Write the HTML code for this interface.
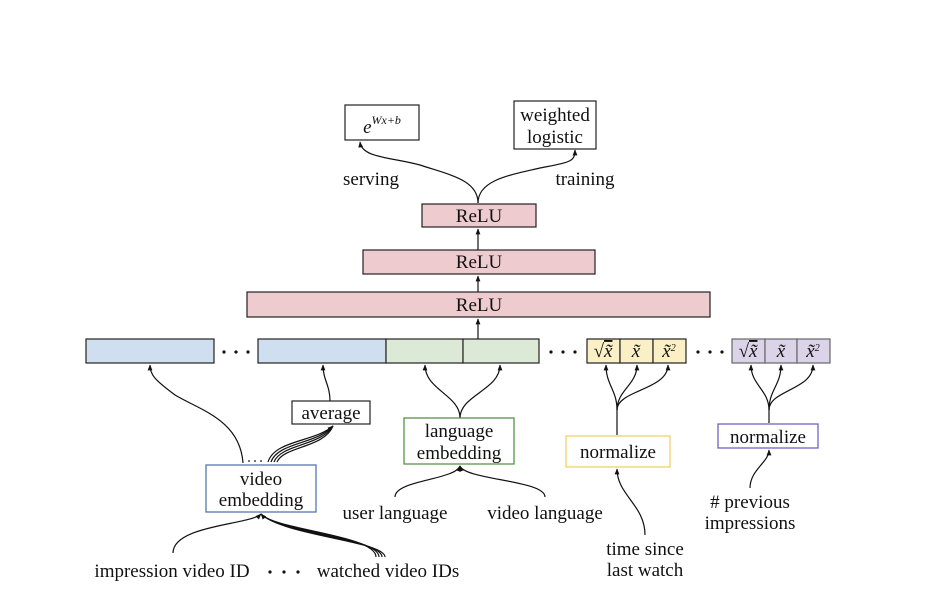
<!DOCTYPE html>
<html><head><meta charset="utf-8"><style>
html,body{margin:0;padding:0;background:#fff;}
svg{display:block;}
text{font-family:"Liberation Serif",serif;font-size:19px;fill:#111;}
.m{font-style:italic;}
</style></head><body>
<svg width="933" height="611" viewBox="0 0 933 611" xmlns="http://www.w3.org/2000/svg">
<defs>
<marker id="a" viewBox="0 0 10 10" refX="9" refY="5" markerWidth="5" markerHeight="5" orient="auto"><path d="M0,1 L10,5 L0,9 z" fill="#111"/></marker>
</defs>
<g fill="none" stroke="#111" stroke-width="1.2">
<!-- top -->
<path d="M478,203 C478,180 450,175 420,165 C390,157 362,158 360,142" marker-end="url(#a)"/>
<path d="M478,203 C478,180 510,175 540,168 C570,162 575,162 575,150" marker-end="url(#a)"/>
<path d="M478,250 L478,229" marker-end="url(#a)"/>
<path d="M478,292 L478,276" marker-end="url(#a)"/>
<path d="M478,339 L478,319" marker-end="url(#a)"/>
<!-- video embedding to blue -->
<path d="M243,463 C240,420 200,410 175,395 C155,380 150,375 150,365" marker-end="url(#a)"/>
<path d="M330,401 C330,385 323,380 323,365" marker-end="url(#a)"/>
<path d="M268,462 C275,440 315,442 333,426" marker-end="url(#a)"/>
<path d="M271,462 C278,442 318,444 333,426"/>
<path d="M274,462 C281,444 321,446 333,426"/>
<path d="M277,462 C284,446 324,448 333,426"/>
<!-- language -->
<path d="M460,418 C460,395 425,390 425,365" marker-end="url(#a)"/>
<path d="M460,418 C460,395 500,390 500,365" marker-end="url(#a)"/>
<path d="M395,497 C395,480 455,480 460,466" marker-end="url(#a)"/>
<path d="M545,497 C545,480 465,480 460,466" marker-end="url(#a)"/>
<!-- yellow -->
<path d="M617,435 L617,410 C617,390 606,385 606,365" marker-end="url(#a)"/>
<path d="M617,410 C617,390 637,385 637,365" marker-end="url(#a)"/>
<path d="M617,410 C617,390 668,390 668,365" marker-end="url(#a)"/>
<path d="M645,535 C645,505 617,495 617,469" marker-end="url(#a)"/>
<!-- purple -->
<path d="M769,423 L769,410 C769,390 751,385 751,365" marker-end="url(#a)"/>
<path d="M769,410 C769,390 781,385 781,365" marker-end="url(#a)"/>
<path d="M769,410 C769,390 813,390 813,365" marker-end="url(#a)"/>
<path d="M750,488 C750,470 769,462 769,450" marker-end="url(#a)"/>
<!-- bottom -->
<path d="M173,553 C173,525 250,525 261,514" marker-end="url(#a)"/>
<path d="M376,557 C376,535 275,530 261,514" marker-end="url(#a)"/>
<path d="M379,557 C379,537 278,532 261,514"/>
<path d="M382,557 C382,539 281,534 261,514"/>
<path d="M385,557 C385,541 284,536 261,514"/>
</g>
<!-- boxes -->
<g stroke="#222" stroke-width="1.2">
<rect x="345" y="105" width="74" height="35" fill="#fff"/>
<rect x="514" y="101" width="82" height="48" fill="#fff"/>
<rect x="422" y="204" width="114" height="23" fill="#eecbce"/>
<rect x="363" y="250" width="232" height="24" fill="#eecbce"/>
<rect x="247" y="292" width="463" height="25" fill="#eecbce"/>
<rect x="86" y="339" width="128" height="24" fill="#cfdff0"/>
<rect x="258" y="339" width="128" height="24" fill="#cfdff0"/>
<rect x="386" y="339" width="77" height="24" fill="#dce9d6"/>
<rect x="463" y="339" width="76" height="24" fill="#dce9d6"/>
<rect x="587" y="339" width="33" height="24" fill="#fbefc6"/>
<rect x="620" y="339" width="33" height="24" fill="#fbefc6"/>
<rect x="653" y="339" width="33" height="24" fill="#fbefc6"/>
<rect x="732" y="339" width="33" height="24" fill="#dbd3e7" stroke="#666"/>
<rect x="765" y="339" width="32" height="24" fill="#dbd3e7" stroke="#666"/>
<rect x="797" y="339" width="33" height="24" fill="#dbd3e7" stroke="#666"/>
<rect x="292" y="401" width="78" height="23" fill="#fff"/>
<rect x="404" y="418" width="110" height="46" fill="#fff" stroke="#4a8a3a"/>
<rect x="566" y="436" width="104" height="31" fill="#fff" stroke="#f0cd5e"/>
<rect x="718" y="424" width="100" height="24" fill="#fff" stroke="#6a55c0"/>
<rect x="206" y="465" width="110" height="47" fill="#fff" stroke="#4a6aaa"/>
</g>
<g fill="#111">
<circle cx="224" cy="352" r="1.6"/><circle cx="236" cy="352" r="1.6"/><circle cx="248" cy="352" r="1.6"/>
<circle cx="551" cy="352" r="1.6"/><circle cx="563" cy="352" r="1.6"/><circle cx="575" cy="352" r="1.6"/>
<circle cx="698" cy="352" r="1.6"/><circle cx="710" cy="352" r="1.6"/><circle cx="722" cy="352" r="1.6"/>
<circle cx="270" cy="572" r="1.6"/><circle cx="284" cy="572" r="1.6"/><circle cx="298" cy="572" r="1.6"/>
<circle cx="249" cy="461" r="0.9"/><circle cx="255" cy="461" r="0.9"/><circle cx="261" cy="461" r="0.9"/>
</g>
<!-- text -->
<text x="382" y="133" text-anchor="middle" class="m">e<tspan font-size="12" dy="-9">Wx+b</tspan></text>
<text x="555" y="121" text-anchor="middle">weighted</text>
<text x="555" y="143" text-anchor="middle">logistic</text>
<text x="371" y="185" text-anchor="middle">serving</text>
<text x="585" y="185" text-anchor="middle">training</text>
<text x="479" y="222" text-anchor="middle">ReLU</text>
<text x="479" y="268" text-anchor="middle">ReLU</text>
<text x="479" y="311" text-anchor="middle">ReLU</text>
<g font-size="15">
<text x="603" y="357" text-anchor="middle" font-size="15">√<tspan class="m" text-decoration="overline">x̃</tspan></text>
<text x="636" y="357" text-anchor="middle" class="m" font-size="15">x̃</text>
<text x="669" y="357" text-anchor="middle" class="m" font-size="15">x̃<tspan font-size="10" dy="-6">2</tspan></text>
<text x="748" y="357" text-anchor="middle" font-size="15">√<tspan class="m" text-decoration="overline">x̃</tspan></text>
<text x="781" y="357" text-anchor="middle" class="m" font-size="15">x̃</text>
<text x="813" y="357" text-anchor="middle" class="m" font-size="15">x̃<tspan font-size="10" dy="-6">2</tspan></text>
</g>
<text x="331" y="419" text-anchor="middle">average</text>
<text x="459" y="437" text-anchor="middle">language</text>
<text x="459" y="459" text-anchor="middle">embedding</text>
<text x="618" y="458" text-anchor="middle">normalize</text>
<text x="768" y="443" text-anchor="middle">normalize</text>
<text x="261" y="485" text-anchor="middle">video</text>
<text x="261" y="506" text-anchor="middle">embedding</text>
<text x="395" y="519" text-anchor="middle">user language</text>
<text x="545" y="519" text-anchor="middle">video language</text>
<text x="750" y="508" text-anchor="middle"># previous</text>
<text x="750" y="529" text-anchor="middle">impressions</text>
<text x="645" y="555" text-anchor="middle">time since</text>
<text x="645" y="576" text-anchor="middle">last watch</text>
<text x="172" y="577" text-anchor="middle">impression video ID</text>
<text x="388" y="577" text-anchor="middle">watched video IDs</text>
</svg>
</body></html>
